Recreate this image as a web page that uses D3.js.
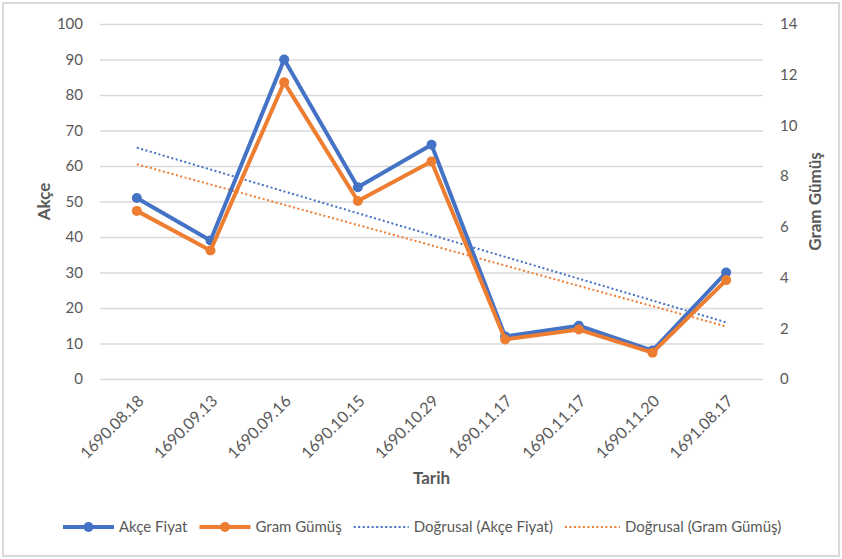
<!DOCTYPE html>
<html>
<head>
<meta charset="utf-8">
<script src="https://cdn.jsdelivr.net/npm/d3@7"></script>
<style>
  body { margin: 0; background: #fff; }
  svg { display: block; font-family: Lato, "Open Sans", sans-serif; }
</style>
</head>
<body>
<svg id="chart"></svg>
<script>
// Data
const dates = ["1690.08.18", "1690.09.13", "1690.09.16", "1690.10.15", "1690.10.29",
               "1690.11.17", "1690.11.17", "1690.11.20", "1691.08.17"];
const akceFiyat = [51, 39, 90, 54, 66, 12, 15, 8, 30];
const gramGumus = [6.63, 5.07, 11.7, 7.02, 8.58, 1.56, 1.95, 1.04, 3.9];
const leftTicks = [0, 10, 20, 30, 40, 50, 60, 70, 80, 90, 100];
const rightTicks = [0, 2, 4, 6, 8, 10, 12, 14];

const colors = { akce: "#4472c4", gram: "#ed7d31" };
const textColor = "#595959";

// Layout
const W = 842, H = 559;
const margin = { top: 24, right: 79, bottom: 180, left: 100 };
const plotW = W - margin.left - margin.right;
const plotH = H - margin.top - margin.bottom;

const svg = d3.select("#chart").attr("width", W).attr("height", H);

// outer frame
svg.append("rect")
  .attr("x", 3).attr("y", 3)
  .attr("width", W - 6).attr("height", H - 6)
  .attr("fill", "#fff")
  .attr("stroke", "#d9d9d9")
  .attr("stroke-width", 2);

const g = svg.append("g").attr("transform", `translate(${margin.left},${margin.top})`);

// Scales
const x = d3.scaleBand().domain(d3.range(dates.length)).range([0, plotW]);
const cx = i => x(i) + x.bandwidth() / 2;
const yL = d3.scaleLinear().domain([0, 100]).range([plotH, 0]);
const yR = d3.scaleLinear().domain([0, 14]).range([plotH, 0]);

// Grid lines
g.append("g")
  .attr("class", "grid")
  .call(d3.axisLeft(yL).tickValues(leftTicks).tickSize(-plotW).tickFormat(""))
  .call(s => s.select(".domain").remove())
  .call(s => s.selectAll("line").attr("stroke", "#d9d9d9").attr("stroke-width", 1.5));

// Left axis labels
g.append("g")
  .call(d3.axisLeft(yL).tickValues(leftTicks).tickSize(0).tickPadding(17))
  .call(s => s.select(".domain").remove())
  .call(s => s.selectAll("text")
    .attr("fill", textColor).style("font-size", "15px").style("font-family", "Lato, sans-serif"));

// Right axis labels
g.append("g")
  .attr("transform", `translate(${plotW},0)`)
  .call(d3.axisRight(yR).tickValues(rightTicks).tickSize(0).tickPadding(17))
  .call(s => s.select(".domain").remove())
  .call(s => s.selectAll("text")
    .attr("fill", textColor).style("font-size", "15px").style("font-family", "Lato, sans-serif"));

// X axis labels, rotated
g.append("g")
  .attr("transform", `translate(0,${plotH})`)
  .call(d3.axisBottom(x).tickSize(0).tickFormat(i => dates[i]))
  .call(s => s.select(".domain").remove())
  .call(s => s.selectAll("text")
    .attr("fill", textColor)
    .style("font-size", "16px").style("font-family", "Lato, sans-serif")
    .attr("text-anchor", "end")
    .attr("dy", null)
    .attr("y", 0)
    .attr("transform", "translate(8,23) rotate(-45)"));

// Axis titles
svg.append("text")
  .attr("transform", `translate(50,${margin.top + plotH / 2}) rotate(-90)`)
  .attr("text-anchor", "middle")
  .attr("fill", textColor)
  .style("font-size", "17px").style("font-weight", "bold")
  .text("Akçe");

svg.append("text")
  .attr("transform", `translate(821,${margin.top + plotH / 2}) rotate(-90)`)
  .attr("text-anchor", "middle")
  .attr("fill", textColor)
  .style("font-size", "17px").style("font-weight", "bold")
  .text("Gram Gümüş");

svg.append("text")
  .attr("x", margin.left + plotW / 2)
  .attr("y", 484)
  .attr("text-anchor", "middle")
  .attr("fill", textColor)
  .style("font-size", "17px").style("font-weight", "bold")
  .text("Tarih");

// Linear trend (least squares) for a series
function trend(values) {
  const xs = values.map((_, i) => i + 1);
  const mx = d3.mean(xs), my = d3.mean(values);
  const sxy = d3.sum(xs, (xv, i) => (xv - mx) * (values[i] - my));
  const sxx = d3.sum(xs, xv => (xv - mx) ** 2);
  const b = sxy / sxx, a = my - b * mx;
  return values.map((_, i) => a + b * (i + 1));
}

const line = yScale => d3.line().x((d, i) => cx(i)).y(d => yScale(d));

// Trend lines
g.append("path")
  .datum(trend(akceFiyat))
  .attr("d", line(yL))
  .attr("fill", "none").attr("stroke", colors.akce)
  .attr("stroke-width", 2).attr("stroke-dasharray", "2,2.5");

g.append("path")
  .datum(trend(gramGumus))
  .attr("d", line(yR))
  .attr("fill", "none").attr("stroke", colors.gram)
  .attr("stroke-width", 2).attr("stroke-dasharray", "2,2.5");

// Series
function drawSeries(values, yScale, color) {
  g.append("path")
    .datum(values)
    .attr("d", line(yScale))
    .attr("fill", "none").attr("stroke", color)
    .attr("stroke-width", 4).attr("stroke-linejoin", "round");
  g.append("g").selectAll("circle")
    .data(values)
    .join("circle")
    .attr("cx", (d, i) => cx(i))
    .attr("cy", d => yScale(d))
    .attr("r", 5)
    .attr("fill", color);
}
drawSeries(akceFiyat, yL, colors.akce);
drawSeries(gramGumus, yR, colors.gram);

// Legend
const legendItems = [
  { label: "Akçe Fiyat", color: colors.akce, dotted: false },
  { label: "Gram Gümüş", color: colors.gram, dotted: false },
  { label: "Doğrusal (Akçe Fiyat)", color: colors.akce, dotted: true },
  { label: "Doğrusal (Gram Gümüş)", color: colors.gram, dotted: true }
];
const legend = svg.append("g").attr("transform", "translate(0,527)");
let lx = 63;
legendItems.forEach(item => {
  const it = legend.append("g").attr("transform", `translate(${lx},0)`);
  const sw = item.dotted ? 55 : 51;
  it.append("line")
    .attr("x1", 0).attr("x2", sw)
    .attr("stroke", item.color)
    .attr("stroke-width", item.dotted ? 2 : 4)
    .attr("stroke-dasharray", item.dotted ? "2,2.5" : null);
  if (!item.dotted) {
    it.append("circle").attr("cx", sw / 2).attr("r", 5).attr("fill", item.color);
  }
  const t = it.append("text")
    .attr("x", sw + 5).attr("dy", "0.35em")
    .attr("fill", textColor)
    .style("font-size", "15px")
    .text(item.label);
  lx += sw + 5 + t.node().getComputedTextLength() + 12;
});
</script>
</body>
</html>
